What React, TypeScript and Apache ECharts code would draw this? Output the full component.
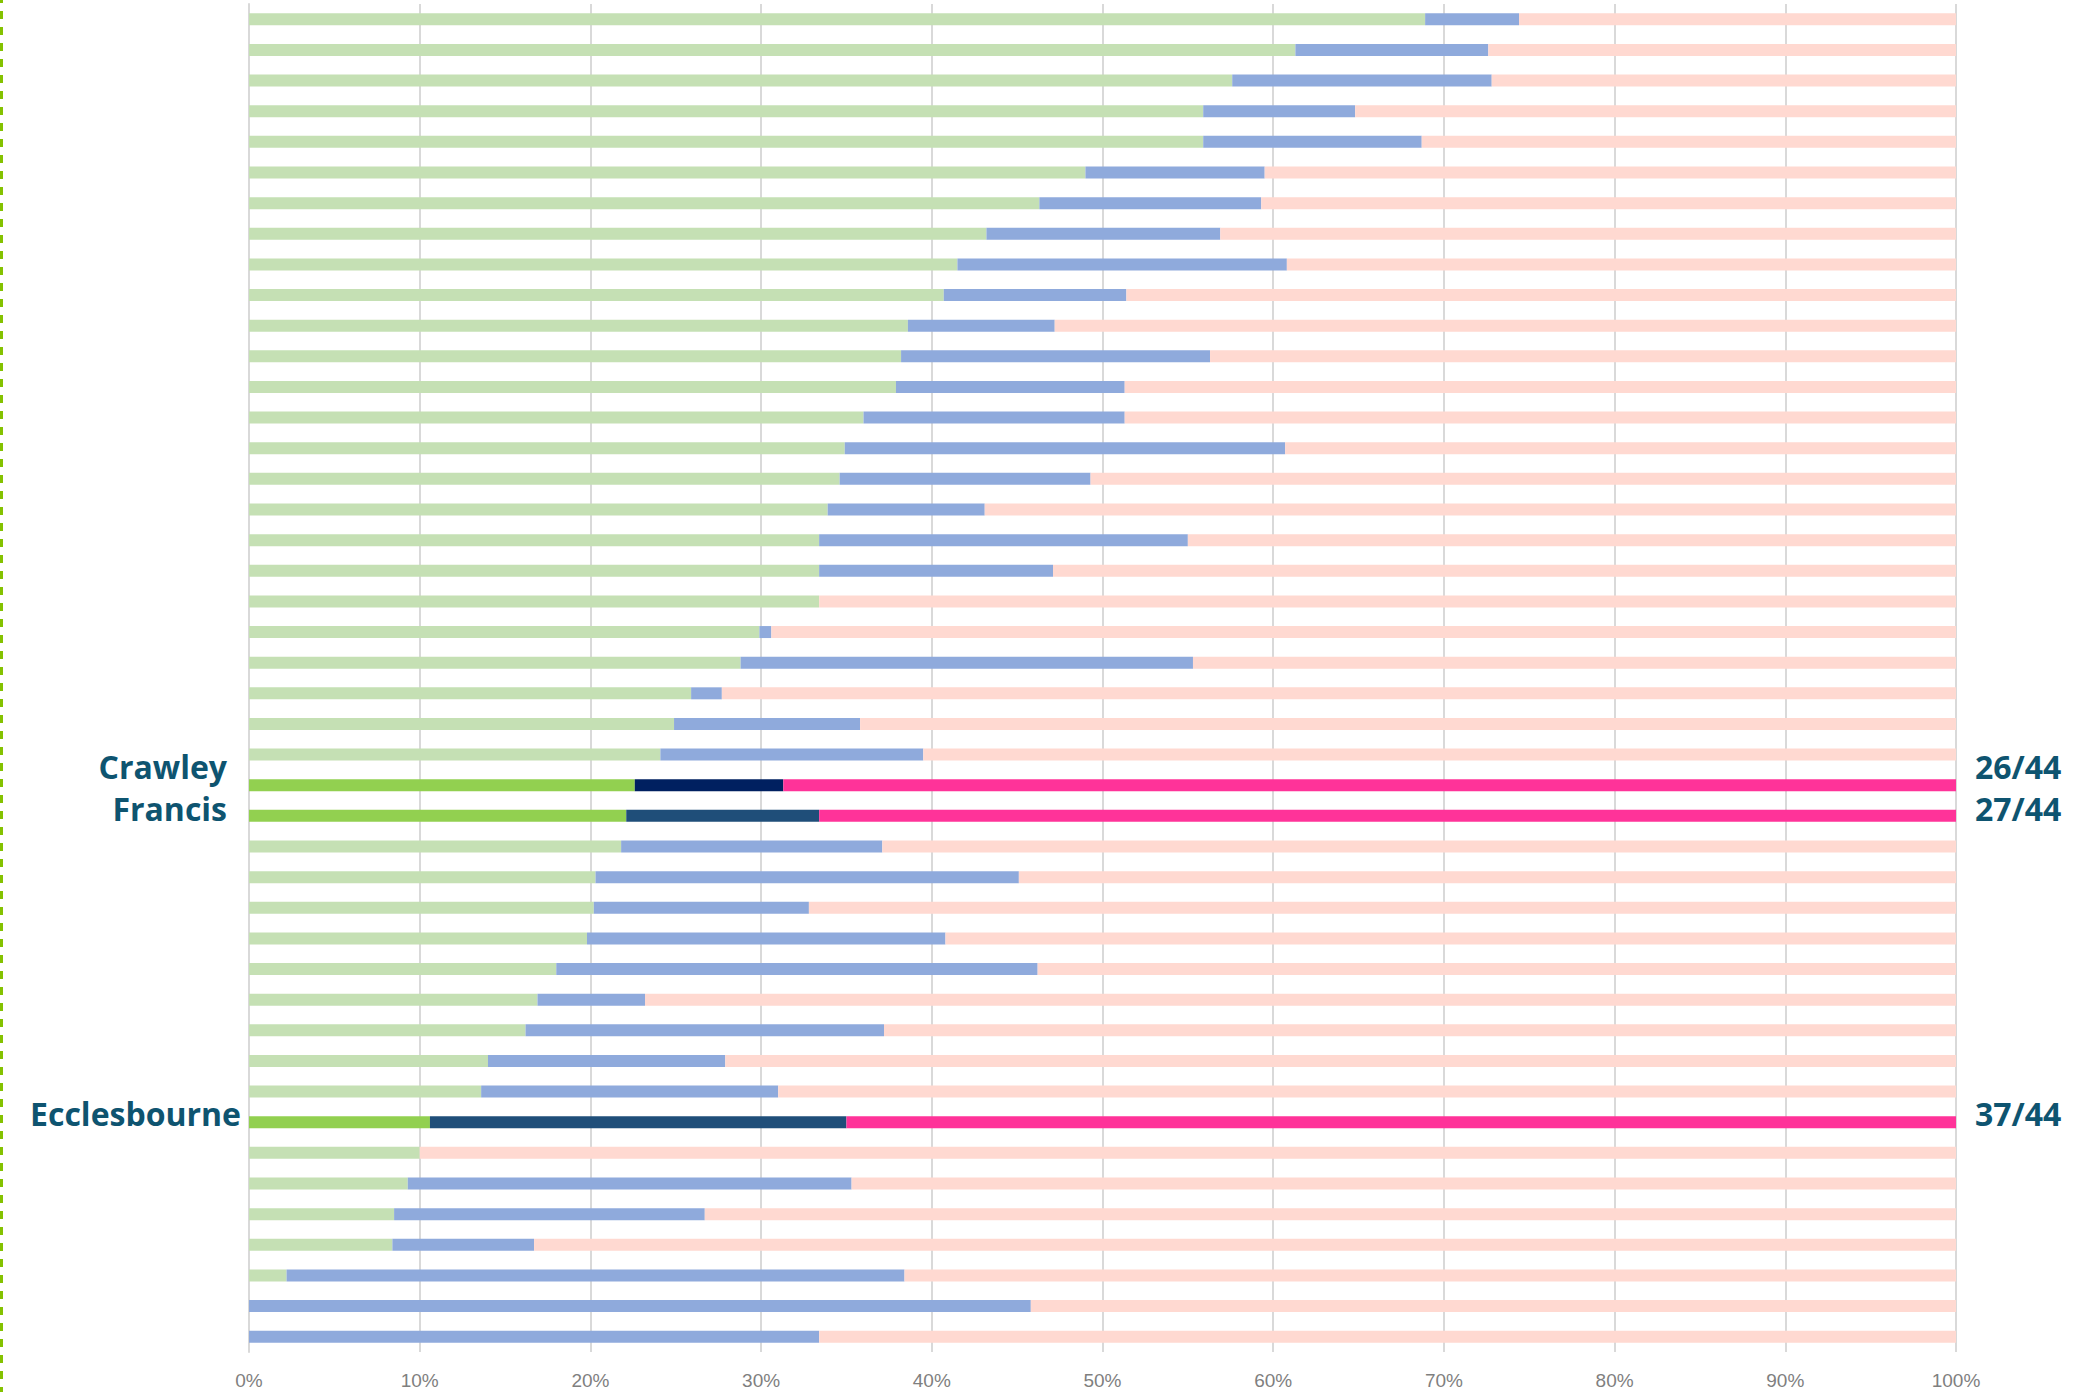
import React, { useEffect, useRef } from "react";
import * as echarts from "echarts";

// Schools ranked from top (1) to bottom (44)
const schools: string[] = [
  "School 1", "School 2", "School 3", "School 4", "School 5", "School 6", "School 7", "School 8",
  "School 9", "School 10", "School 11", "School 12", "School 13", "School 14", "School 15", "School 16",
  "School 17", "School 18", "School 19", "School 20", "School 21", "School 22", "School 23", "School 24",
  "School 25", "Crawley", "Francis", "School 28", "School 29", "School 30", "School 31", "School 32",
  "School 33", "School 34", "School 35", "School 36", "Ecclesbourne", "School 38", "School 39", "School 40",
  "School 41", "School 42", "School 43", "School 44",
];

// First segment (green), % of pupils
const greenShare: number[] = [
  68.9, 61.3, 57.6, 55.9, 55.9, 49.0, 46.3, 43.2, 41.5, 40.7, 38.6, 38.2, 37.9, 36.0, 34.9, 34.6,
  33.9, 33.4, 33.4, 33.4, 29.9, 28.8, 25.9, 24.9, 24.1, 22.6, 22.1, 21.8, 20.3, 20.2, 19.8, 18.0,
  16.9, 16.2, 14.0, 13.6, 10.6, 10.0, 9.3, 8.5, 8.4, 2.2, 0, 0,
];

// Second segment (blue), % of pupils
const blueShare: number[] = [
  5.5, 11.3, 15.2, 8.9, 12.8, 10.5, 13.0, 13.7, 19.3, 10.7, 8.6, 18.1, 13.4, 15.3, 25.8, 14.7,
  9.2, 21.6, 13.7, 0, 0.7, 26.5, 1.8, 10.9, 15.4, 8.7, 11.3, 15.3, 24.8, 12.6, 21.0, 28.2,
  6.3, 21.0, 13.9, 17.4, 24.4, 0, 26.0, 18.2, 8.3, 36.2, 45.8, 33.4,
];

// Highlighted schools and their rank labels
const highlightNames: string[] = ["Crawley", "Francis", "Ecclesbourne"];
const highlightRanks: string[] = ["26/44", "27/44", "37/44"];

const xTicks: number[] = [0, 10, 20, 30, 40, 50, 60, 70, 80, 90, 100];

// Styling
const C_GREEN = "#C5E0B4";
const C_BLUE = "#8FAADC";
const C_PINK = "#FFD9D1";
const H_GREEN = "#92D050";
const H_PINK = "#FF3399";
const H_MID: Record<string, string> = {
  Crawley: "#002060",
  Francis: "#1F4E79",
  Ecclesbourne: "#1F4E79",
};
const LABEL_STYLE: Record<string, { dy: number; right: number }> = {
  Crawley: { dy: -19, right: 227 },
  Francis: { dy: -7, right: 227 },
  Ecclesbourne: { dy: -9, right: 241 },
};
const TEXT_COLOR = "#0E5470";

export default function App() {
  const ref = useRef<HTMLDivElement>(null);

  useEffect(() => {
    document.body.style.margin = "0";
    if (!ref.current) return;
    const chart = echarts.init(ref.current, undefined, { renderer: "svg" });

    const isHi = (i: number) => highlightNames.indexOf(schools[i]) >= 0;

    const greenData = greenShare.map((v, i) =>
      isHi(i) ? { value: v, itemStyle: { color: H_GREEN } } : v
    );
    const blueData = blueShare.map((v, i) =>
      isHi(i) ? { value: v, itemStyle: { color: H_MID[schools[i]] } } : v
    );
    const pinkData = greenShare.map((g, i) => {
      const v = Math.max(0, +(100 - g - blueShare[i]).toFixed(2));
      return isHi(i) ? { value: v, itemStyle: { color: H_PINK } } : v;
    });

    const option: any = {
      animation: false,
      grid: { left: 249, right: 142, top: 4, bottom: 40, containLabel: false },
      xAxis: {
        type: "value",
        min: xTicks[0],
        max: xTicks[xTicks.length - 1],
        interval: xTicks[1] - xTicks[0],
        axisLine: { show: false },
        axisTick: { show: false },
        splitLine: { show: true, lineStyle: { color: "#D9D9D9", width: 2 } },
        axisLabel: {
          formatter: "{value}%",
          color: "#7F7F7F",
          fontFamily: "Liberation Sans",
          fontSize: 19,
          margin: 19,
        },
      },
      yAxis: {
        type: "category",
        inverse: true,
        data: schools,
        axisLine: { show: true, lineStyle: { color: "#D9D9D9", width: 2 } },
        axisTick: { show: false },
        axisLabel: { show: false },
        splitLine: { show: false },
      },
      series: [
        { name: "Green", type: "bar", stack: "t", barWidth: 12, data: greenData, itemStyle: { color: C_GREEN } },
        { name: "Blue", type: "bar", stack: "t", barWidth: 12, data: blueData, itemStyle: { color: C_BLUE } },
        { name: "Pink", type: "bar", stack: "t", barWidth: 12, data: pinkData, itemStyle: { color: C_PINK } },
      ],
    };
    chart.setOption(option);

    const xRight = chart.convertToPixel({ xAxisIndex: 0 }, 100) as number;
    const graphics: any[] = [
      {
        type: "line",
        shape: { x1: 1.5, y1: -5, x2: 1.5, y2: 1400 },
        style: { stroke: "#84C200", lineWidth: 3, lineDash: [8, 8] },
        silent: true,
      },
    ];
    highlightNames.forEach((name, k) => {
      const idx = schools.indexOf(name);
      const y = chart.convertToPixel({ yAxisIndex: 0 }, idx) as number;
      const st = LABEL_STYLE[name];
      graphics.push({
        type: "text",
        x: st.right,
        y: y + st.dy,
        style: {
          text: name,
          fill: TEXT_COLOR,
          font: "bold 32px 'Open Sans', 'DejaVu Sans', sans-serif",
          textAlign: "right",
          textVerticalAlign: "middle",
        },
      });
      graphics.push({
        type: "text",
        x: xRight + 19,
        y: y + st.dy,
        style: {
          text: highlightRanks[k],
          fill: TEXT_COLOR,
          font: "bold 32px 'Open Sans', 'DejaVu Sans', sans-serif",
          textAlign: "left",
          textVerticalAlign: "middle",
        },
      });
    });
    chart.setOption({ graphic: graphics });

    return () => chart.dispose();
  }, []);

  return <div ref={ref} style={{ width: 2098, height: 1392 }} />;
}
